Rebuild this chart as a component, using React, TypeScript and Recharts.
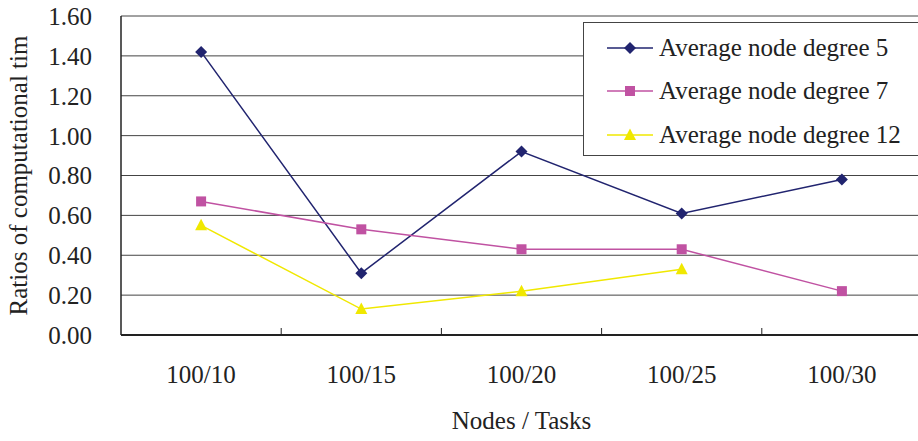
import React from 'react';
import { LineChart, Line, XAxis, YAxis, CartesianGrid } from 'recharts';

const categories = ['100/10', '100/15', '100/20', '100/25', '100/30'];
const degree5 = [1.42, 0.31, 0.92, 0.61, 0.78];
const degree7 = [0.67, 0.53, 0.43, 0.43, 0.22];
const degree12 = [0.55, 0.13, 0.22, 0.33, null];
const yTicks = [0, 0.2, 0.4, 0.6, 0.8, 1.0, 1.2, 1.4, 1.6];

const FONT = '"Liberation Serif", "Times New Roman", serif';
const TEXT = '#222';

// categories sit in the middle of their slot (i + 0.5); slot edges get the small tick marks
const data = categories.map((name, i) => ({
  name,
  pos: i + 0.5,
  d5: degree5[i],
  d7: degree7[i],
  d12: degree12[i],
}));
const xTicks = [0.5, 1, 1.5, 2, 2.5, 3, 3.5, 4, 4.5];

type MarkerKind = 'diamond' | 'square' | 'triangle';

const Marker = ({ kind, cx, cy, color }: { kind: MarkerKind; cx: number; cy: number; color: string }) => {
  if (kind === 'diamond') {
    return <polygon points={`${cx},${cy - 6} ${cx + 6},${cy} ${cx},${cy + 6} ${cx - 6},${cy}`} fill={color} />;
  }
  if (kind === 'square') {
    return <rect x={cx - 5} y={cy - 5} width={10} height={10} fill={color} />;
  }
  return <polygon points={`${cx},${cy - 6.5} ${cx + 6},${cy + 5} ${cx - 6},${cy + 5}`} fill={color} />;
};

const series = [
  { key: 'd5', name: 'Average node degree 5', color: '#21246f', kind: 'diamond' as MarkerKind },
  { key: 'd7', name: 'Average node degree 7', color: '#c052a2', kind: 'square' as MarkerKind },
  { key: 'd12', name: 'Average node degree 12', color: '#f0e800', kind: 'triangle' as MarkerKind },
];

const makeDot = (kind: MarkerKind, color: string) => (props: any) => {
  const { cx, cy, index } = props;
  if (cx == null || cy == null) return <g key={`e-${index}`} />;
  return (
    <g key={`m-${index}`}>
      <Marker kind={kind} cx={cx} cy={cy} color={color} />
    </g>
  );
};

const XTick = (props: any) => {
  const { x, y, payload } = props;
  const v = payload.value as number;
  if (Number.isInteger(v)) {
    return <line x1={x} x2={x} y1={y} y2={y - 7} stroke="#222" strokeWidth={1} />;
  }
  return (
    <text x={x} y={y + 48} textAnchor="middle" fontSize={25} fontFamily={FONT} fill={TEXT}>
      {categories[Math.floor(v)]}
    </text>
  );
};

const YTitle = ({ viewBox }: any) => {
  const x = viewBox.x + 27;
  const y = viewBox.y + viewBox.height / 2;
  return (
    <text x={x} y={y} transform={`rotate(-90 ${x} ${y})`} textAnchor="middle" fontSize={25} fontFamily={FONT} fill={TEXT}>
      Ratios of computational tim
    </text>
  );
};

const XTitle = ({ viewBox }: any) => (
  <text x={viewBox.x + viewBox.width / 2} y={viewBox.y + 94} textAnchor="middle" fontSize={25} fontFamily={FONT} fill={TEXT}>
    Nodes / Tasks
  </text>
);

const LegendBox = () => (
  <div
    style={{
      position: 'absolute',
      left: 583,
      top: 22,
      width: 340,
      height: 134,
      border: '1px solid #444',
      background: '#fff',
      boxSizing: 'border-box',
    }}
  >
    {series.map((s, i) => (
      <div key={s.key} style={{ position: 'absolute', left: 23, top: [25, 68, 112][i] - 15, height: 30, display: 'flex', alignItems: 'center' }}>
        <svg width={46} height={30}>
          <line x1={0} y1={15} x2={46} y2={15} stroke={s.color} strokeWidth={1.5} />
          <Marker kind={s.kind} cx={23} cy={15} color={s.color} />
        </svg>
        <span style={{ marginLeft: 6, fontFamily: FONT, fontSize: 25, color: TEXT, whiteSpace: 'nowrap', lineHeight: '30px' }}>
          {s.name}
        </span>
      </div>
    ))}
  </div>
);

export default function App() {
  return (
    <div style={{ position: 'absolute', left: 0, top: 0, width: 918, height: 441, overflow: 'hidden', background: '#fff' }}>
      <LineChart width={930} height={441} data={data} margin={{ top: 16, right: 8, left: 0, bottom: 0 }}>
        <CartesianGrid vertical={false} stroke="#444" strokeWidth={1} />
        <XAxis
          dataKey="pos"
          type="number"
          domain={[0, 5]}
          ticks={xTicks}
          interval={0}
          height={106}
          tickLine={false}
          tickSize={0}
          tickMargin={0}
          tick={<XTick />}
          axisLine={{ stroke: '#222', strokeWidth: 2 }}
          label={<XTitle />}
        />
        <YAxis
          width={121}
          domain={[0, 1.6]}
          ticks={yTicks}
          tickFormatter={(v: number) => v.toFixed(2)}
          tickLine={false}
          tickSize={0}
          tickMargin={29}
          axisLine={{ stroke: '#222', strokeWidth: 1.5 }}
          tick={{ fontSize: 25, fontFamily: FONT, fill: TEXT }}
          label={<YTitle />}
        />
        {series.map((s) => (
          <Line
            key={s.key}
            type="linear"
            dataKey={s.key}
            name={s.name}
            stroke={s.color}
            strokeWidth={1.5}
            dot={makeDot(s.kind, s.color)}
            activeDot={false}
            isAnimationActive={false}
          />
        ))}
      </LineChart>
      <LegendBox />
    </div>
  );
}
